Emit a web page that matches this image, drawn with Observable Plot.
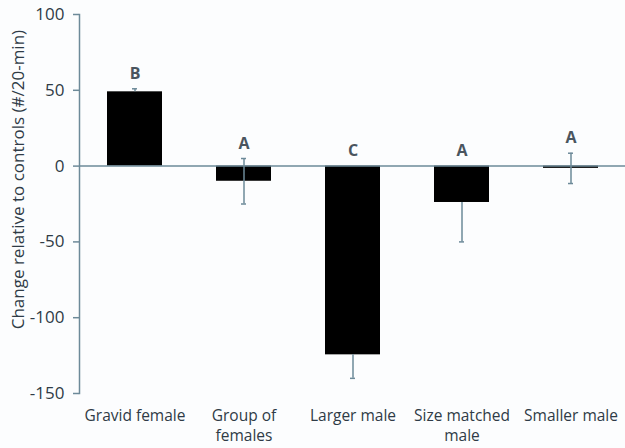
<!DOCTYPE html>
<html><head><meta charset="utf-8">
<script src="https://cdn.jsdelivr.net/npm/d3@7"></script>
<script src="https://cdn.jsdelivr.net/npm/@observablehq/plot@0.6"></script>
<style>body{margin:0;background:#fcfdfe} svg{display:block}</style>
</head><body><div id="chart"></div>
<script>
const categories = ["Gravid female","Group of females","Larger male","Size matched male","Smaller male"];
const tickLabels = ["Gravid female","Group of\nfemales","Larger male","Size matched\nmale","Smaller male"];
const means = [49, -10, -124.5, -24, -1.5];
const errLow = [49, -25, -140, -50, -11.5];
const errHigh = [51, 5, -124.5, -24, 8.5];
const letters = ["B","A","C","A","A"];
const yTicks = [-150,-100,-50,0,50,100];
const yTitle = "Change relative to controls (#/20-min)";

const axisColor = "#6d8a99";
const textColor = "#2f3b46";
const data = categories.map((c,i)=>({cat:c, mean:means[i], lo:errLow[i], hi:errHigh[i], letter:letters[i]}));
const caps = [];
data.forEach(d=>{ if (d.hi !== d.mean) caps.push({cat:d.cat, y:d.hi}); if (d.lo !== d.mean) caps.push({cat:d.cat, y:d.lo}); });

const chart = Plot.plot({
  width: 625, height: 448,
  marginLeft: 79, marginRight: 0, marginTop: 14, marginBottom: 55,
  style: {fontFamily: "Open Sans", fontSize: "15px", color: textColor, background: "#fcfdfe"},
  x: {domain: categories, paddingInner: 0.5, paddingOuter: 0.25},
  y: {domain: [-150, 100]},
  marks: [
    Plot.frame({anchor: "left", stroke: axisColor, strokeWidth: 1.5}),
    Plot.axisY({ticks: yTicks, tickSize: 6, tickPadding: 9, fontSize: 17, stroke: axisColor, strokeOpacity: 1, strokeWidth: 1.5,
      tickFormat: d => String(d), label: null}),
    Plot.text([yTitle], {frameAnchor: "left", y: [-8.9], text: d => d, rotate: -90, dx: -61, textAnchor: "middle", fontSize: 17, fill: textColor}),
    Plot.axisX({tickSize: 0, tickPadding: 13, fontSize: 15.5, label: null, lineHeight: 1.3,
      tickFormat: (d) => tickLabels[categories.indexOf(d)]}),
    Plot.barY(data, {x: "cat", y: "mean", fill: "#000"}),
    Plot.ruleY([0], {stroke: axisColor, strokeWidth: 1.5}),
    Plot.ruleX(data, {x: "cat", y1: "lo", y2: "hi", stroke: axisColor, strokeWidth: 1.5}),
    Plot.tickY(caps, {x: "cat", y: "y", stroke: axisColor, strokeWidth: 1.5, insetLeft: 25, insetRight: 25}),
    Plot.text(data, {x: "cat", y: d => Math.max(0, d.hi), text: "letter", dy: -15, fontSize: 16, fontWeight: "bold", fill: "#4a555f"})
  ]
});
document.getElementById("chart").append(chart);
</script>
</body></html>
